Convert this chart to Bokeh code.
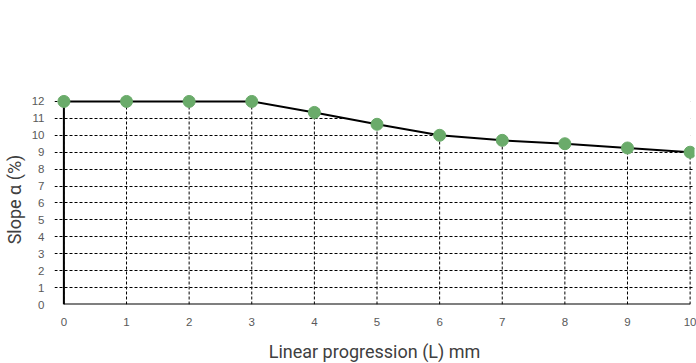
from bokeh.plotting import figure
from bokeh.models import FixedTicker, Range1d, ColumnDataSource
from bokeh.embed import file_html
from bokeh.resources import INLINE

# data
x_vals = [0, 1, 2, 3, 4, 5, 6, 7, 8, 9, 10]
slope = [12, 12, 12, 12, 11.35, 10.65, 10.0, 9.7, 9.5, 9.25, 9.0]
x_ticks = [0, 1, 2, 3, 4, 5, 6, 7, 8, 9, 10]
y_ticks = [0, 1, 2, 3, 4, 5, 6, 7, 8, 9, 10, 11, 12]

x_end = 10.07
y_top = 12.41
p = figure(width=688, height=355, output_backend="svg", toolbar_location=None,
           x_range=Range1d(-0.15, x_end), y_range=Range1d(0, y_top),
           frame_width=640, frame_height=210,
           min_border_left=45, min_border_right=3, min_border_top=94, min_border_bottom=51)
p.outline_line_color = None
p.background_fill_color = "white"

p.xgrid.visible = False
p.ygrid.grid_line_color = "black"
p.ygrid.grid_line_dash = "3 2"
p.ygrid.grid_line_width = 1
p.ygrid.ticker = FixedTicker(ticks=y_ticks)

src = ColumnDataSource(dict(x=x_vals, y=slope, top=[y_top] * len(x_vals),
                            base=[y_ticks[0]] * len(x_vals)))
# mask the horizontal grid above the curve (and right of the last point)
p.varea(x="x", y1="y", y2="top", source=src, fill_color="white")
p.varea(x=[x_vals[-1], x_end], y1=[slope[-1], slope[-1]], y2=[y_top, y_top],
        fill_color="white")
# vertical grid lines up to the curve
p.segment(x0="x", y0="base", x1="x", y1="y", source=src,
          line_color="black", line_dash="3 2", line_width=1)

# axes lines at x=0 / y=0
p.segment(x0=[x_vals[0], x_vals[0]], y0=[y_ticks[0], y_ticks[0]],
          x1=[x_vals[0], x_vals[-1]], y1=[y_ticks[-1], y_ticks[0]],
          line_color="black", line_width=2)

p.line(x="x", y="y", source=src, line_color="black", line_width=2)
p.scatter(x="x", y="y", source=src, size=12, fill_color="#6aab6a", line_color="#6aab6a")

for ax in (p.xaxis, p.yaxis):
    ax.axis_line_color = None
    ax.major_tick_line_color = None
    ax.minor_tick_line_color = None
    ax.major_label_text_color = "#595959"
    ax.major_label_text_font = "Liberation Sans"
    ax.major_label_text_font_size = "11.5px"
    ax.axis_label_text_color = "#404040"
    ax.axis_label_text_font = "Roboto"
    ax.axis_label_text_font_size = "18px"
    ax.axis_label_text_font_style = "normal"

p.xaxis.ticker = FixedTicker(ticks=x_ticks)
p.yaxis.ticker = FixedTicker(ticks=y_ticks)
p.xaxis.axis_label = "Linear progression (L) mm"
p.yaxis.axis_label = "Slope α (%)"
p.xaxis.major_label_standoff = 7
p.yaxis.major_label_standoff = 4
p.xaxis.axis_label_standoff = 12
p.yaxis.axis_label_standoff = 4

open("out.html", "w").write(file_html(p, INLINE))
